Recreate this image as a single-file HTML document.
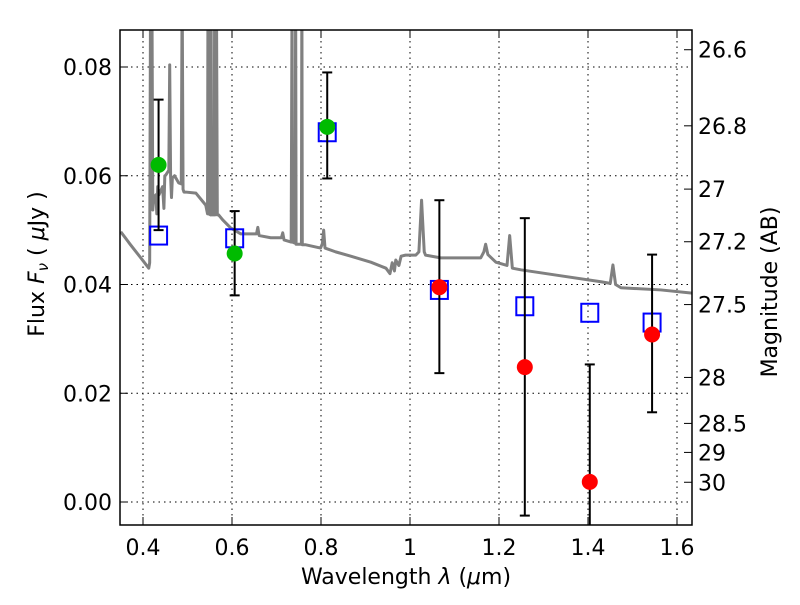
<!DOCTYPE html>
<html><head><meta charset="utf-8"><style>
body{margin:0;background:#fff}
svg{font-family:"DejaVu Sans","Liberation Sans",sans-serif}
</style></head><body>
<svg id="chart" width="800" height="600" viewBox="0 0 800 600" xmlns="http://www.w3.org/2000/svg">
<g id="grid"></g>
<g id="plot" clip-path="url(#clip)"></g>
<defs><clipPath id="clip"><rect x="120" y="30" width="572" height="495"/></clipPath></defs>
<rect x="120" y="30" width="572" height="495" fill="none" stroke="#000" stroke-width="1.5"/>
<g id="axes" font-size="22"></g>
<text x="406" y="584" font-size="22" text-anchor="middle">Wavelength  <tspan font-style="italic">λ</tspan> (<tspan font-style="italic">μ</tspan>m)</text>
<text transform="translate(44,264) rotate(-90)" font-size="22" text-anchor="middle">Flux  <tspan font-style="italic">F</tspan><tspan font-style="italic" font-size="15" dy="4">ν</tspan><tspan dy="-4">  (  </tspan><tspan font-style="italic">μ</tspan>Jy )</text>
<text transform="translate(777,292) rotate(-90)" font-size="22" text-anchor="middle">Magnitude (AB)</text>
</svg>
<script>
const xTicks=[0.4,0.6,0.8,1.0,1.2,1.4,1.6];
const xTickLabels=["0.4","0.6","0.8","1","1.2","1.4","1.6"];
const yTicks=[0,0.02,0.04,0.06,0.08];
const yTickLabels=["0.00","0.02","0.04","0.06","0.08"];
const magTicks=[26.6,26.8,27,27.2,27.5,28,28.5,29,30];
const magTickLabels=["26.6","26.8","27","27.2","27.5","28","28.5","29","30"];
const specWave=[0.350,0.372,0.395,0.413,0.415,0.417,0.418,0.420,0.422,0.424,0.429,0.431,0.433,0.436,0.444,0.447,0.449,0.451,0.458,0.460,0.462,0.464,0.466,0.471,0.480,0.486,0.488,0.490,0.492,0.496,0.519,0.541,0.545,0.546,0.547,0.552,0.553,0.554,0.560,0.561,0.562,0.565,0.567,0.570,0.579,0.597,0.620,0.655,0.658,0.661,0.687,0.711,0.714,0.717,0.733,0.735,0.736,0.742,0.743,0.744,0.756,0.757,0.758,0.766,0.799,0.803,0.806,0.809,0.833,0.867,0.912,0.946,0.955,0.960,0.965,0.968,0.975,0.980,0.990,1.013,1.020,1.026,1.032,1.035,1.069,1.159,1.166,1.170,1.175,1.193,1.218,1.224,1.230,1.249,1.339,1.429,1.450,1.456,1.462,1.474,1.564,1.636];
const specFlux=[0.0497,0.0473,0.0449,0.0430,0.0440,0.095,0.0540,0.095,0.0537,0.0560,0.0565,0.0530,0.0580,0.0565,0.0580,0.0540,0.0600,0.0601,0.0610,0.0804,0.0600,0.0560,0.0596,0.0600,0.0587,0.0585,0.095,0.0575,0.0570,0.0570,0.0568,0.0546,0.0530,0.095,0.0530,0.0528,0.095,0.0528,0.0528,0.095,0.0528,0.095,0.0528,0.0528,0.0519,0.0504,0.0493,0.0493,0.0505,0.0490,0.0486,0.0486,0.0495,0.0482,0.0478,0.095,0.0478,0.0476,0.095,0.0474,0.0474,0.095,0.0473,0.0473,0.0467,0.0475,0.0500,0.0467,0.0460,0.0452,0.0441,0.0430,0.0420,0.0440,0.0425,0.0445,0.0435,0.0452,0.0454,0.0454,0.0460,0.0555,0.0460,0.0454,0.0449,0.0449,0.0460,0.0474,0.0455,0.0441,0.0435,0.0490,0.0430,0.0427,0.0416,0.0405,0.0402,0.0436,0.0400,0.0394,0.0390,0.0384];
const sqWave=[0.435,0.606,0.814,1.066,1.258,1.404,1.544];
const sqFlux=[0.049,0.0485,0.068,0.039,0.036,0.0348,0.033];
const obsWave=[0.435,0.606,0.814,1.066,1.258,1.404,1.544];
const obsFlux=[0.062,0.0457,0.069,0.0395,0.0248,0.0037,0.0308];
const obsHi=[0.074,0.0535,0.079,0.0555,0.0522,0.0253,0.0455];
const obsLo=[0.050,0.038,0.0595,0.0237,-0.0025,-0.020,0.0165];
const obsColor=["#00bb00","#00bb00","#00bb00","#ff0000","#ff0000","#ff0000","#ff0000"];

const X=w=>143+(w-0.4)/0.2*89;
const Y=f=>502-f*5437.5;
const M=m=>Y(Math.pow(10,(23.9-m)/2.5));
const NS="http://www.w3.org/2000/svg";
function mk(tag,parent,attrs){const e=document.createElementNS(NS,tag);for(const k in attrs)e.setAttribute(k,attrs[k]);parent.appendChild(e);return e;}
const grid=document.getElementById('grid'),plot=document.getElementById('plot'),axes=document.getElementById('axes');
xTicks.forEach((t,i)=>{
  const g=mk('line',grid,{x1:X(t),x2:X(t),y1:30,y2:525,stroke:'#000','stroke-dasharray':'1.5,4','stroke-width':1});
  
  
  mk('line',axes,{x1:X(t),x2:X(t),y1:525,y2:517,stroke:'#000'});
  mk('line',axes,{x1:X(t),x2:X(t),y1:30,y2:38,stroke:'#000'});
  const l=mk('text',axes,{x:X(t),y:555,'text-anchor':'middle'});l.textContent=xTickLabels[i];
  
  
});
yTicks.forEach((t,i)=>{
  const g=mk('line',grid,{x1:120,x2:692,y1:Y(t),y2:Y(t),stroke:'#000','stroke-dasharray':'1.5,4','stroke-width':1});
  
  
  mk('line',axes,{x1:120,x2:128,y1:Y(t),y2:Y(t),stroke:'#000'});
  const l=mk('text',axes,{x:112,y:Y(t)+8,'text-anchor':'end'});l.textContent=yTickLabels[i];
  
  
});
magTicks.forEach((m,i)=>{
  mk('line',axes,{x1:684,x2:692,y1:M(m),y2:M(m),stroke:'#000'});
  const l=mk('text',axes,{x:698,y:M(m)+8});l.textContent=magTickLabels[i];
  
  
});
const pts=specWave.map((w,i)=>X(w)+','+Y(specFlux[i])).join(' ');
const sp=mk('polyline',plot,{points:pts,fill:'none',stroke:'#808080','stroke-width':3,'stroke-linejoin':'round'});


sqWave.forEach((w,i)=>{
  const r=mk('rect',plot,{x:X(w)-8.5,y:Y(sqFlux[i])-9,width:17,height:18,fill:'none',stroke:'#0000ff','stroke-width':2});
  
  
});
obsWave.forEach((w,i)=>{
  const x=X(w);
  const e=mk('g',plot,{stroke:'#000','stroke-width':2});
  
  
  mk('line',e,{x1:x,x2:x,y1:Y(obsHi[i]),y2:Y(obsLo[i])});
  mk('line',e,{x1:x-5,x2:x+5,y1:Y(obsHi[i]),y2:Y(obsHi[i])});
  mk('line',e,{x1:x-5,x2:x+5,y1:Y(obsLo[i]),y2:Y(obsLo[i])});
  const c=mk('circle',plot,{cx:x,cy:Y(obsFlux[i]),r:8,fill:obsColor[i]});
  
  
});
</script>
</body></html>
